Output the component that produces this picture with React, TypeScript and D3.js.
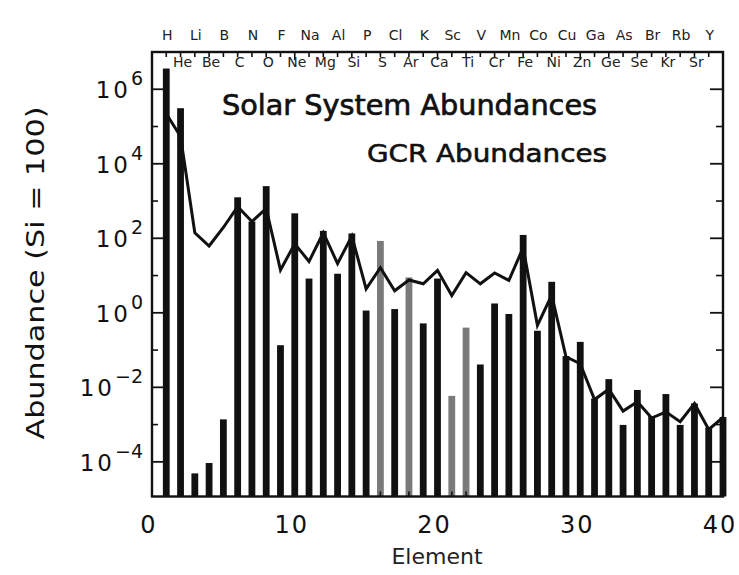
import React from 'react';
import * as d3 from 'd3';

const elements = ["H","He","Li","Be","B","C","N","O","F","Ne","Na","Mg","Al","Si","P","S","Cl","Ar","K","Ca","Sc","Ti","V","Cr","Mn","Fe","Co","Ni","Cu","Zn","Ga","Ge","As","Se","Br","Kr","Rb","Sr","Y","Zr"];

// Solar system abundances (Si = 100), bars
const solarAbund = [3.6e6, 3.1e5, 4.9e-5, 9.3e-5, 1.38e-3, 1260, 282, 2510, 0.135, 468,
  8.3, 158, 11.2, 135, 1.15, 85, 1.26, 8.9, 0.52, 8.3,
  5.9e-3, 0.40, 0.041, 1.78, 0.93, 123, 0.33, 6.8, 0.069, 0.166,
  5.0e-3, 0.0166, 9.8e-4, 8.5e-3, 1.7e-3, 6.6e-3, 9.8e-4, 3.7e-3, 8.3e-4, 1.6e-3];

// Galactic cosmic ray abundances (Si = 100), line
const gcrAbund = [2.2e5, 5.4e4, 141, 62, 195, 708, 282, 631, 14.1, 71,
  24, 141, 21, 115, 4.4, 16.2, 3.9, 7.6, 6.0, 13.8,
  2.9, 12.0, 6.0, 11.7, 7.4, 56, 0.46, 3.0, 0.066, 0.043,
  4.7e-3, 8.9e-3, 2.3e-3, 4.1e-3, 1.5e-3, 2.2e-3, 1.2e-3, 3.7e-3, 7.4e-4, 1.55e-3];

const grayElements = ["S", "Ar", "Sc", "Ti"];
const xTickLabels = [0, 10, 20, 30, 40];
const yMajorExp = [-4, -2, 0, 2, 4, 6];
const yMinorExp = [-3, -1, 1, 3, 5];

const W = 739, H = 575;
const L = 152, R = 723, T = 52, B = 496.5;
const FONT = "DejaVu Sans, sans-serif";

export default function App() {
  const x = d3.scaleLinear().domain([0, 40]).range([L, R]);
  const y = d3.scaleLog().domain([Math.pow(10, -4.93), 1e7]).range([B, T]);
  const bw = 6.8;
  const line = d3.line<number>().x((_, i) => x(i + 1)).y(d => y(d));
  const xMinor = d3.range(0, 41);

  return (
    <svg width={W} height={H} style={{ position: 'absolute', left: 0, top: 0, background: '#fff' }}
      fontFamily={FONT}>
      <rect x={0} y={0} width={W} height={H} fill="#fff" />
      {/* bars */}
      {solarAbund.map((v, i) => (
        <rect key={'b' + i} x={x(i + 1) - bw / 2} y={y(v)} width={bw} height={B - y(v)}
          fill={grayElements.includes(elements[i]) ? '#7a7a7a' : '#111'} />
      ))}
      {/* GCR line */}
      <path d={line(gcrAbund) || ''} fill="none" stroke="#111" strokeWidth={3} strokeLinejoin="miter" />
      {/* frame */}
      <rect x={L} y={T} width={R - L} height={B - T} fill="none" stroke="#111" strokeWidth={2.4} />
      {/* top & bottom ticks */}
      {xMinor.map(t => (
        <g key={'xt' + t}>
          <line x1={x(t)} x2={x(t)} y1={T} y2={T + (t % 10 === 0 ? 8 : 5)} stroke="#111" strokeWidth={1.6} />
          <line x1={x(t)} x2={x(t)} y1={B} y2={B - (t % 10 === 0 ? 8 : 5)} stroke="#111" strokeWidth={1.6} />
        </g>
      ))}
      {/* y ticks */}
      {yMajorExp.map(e => (
        <g key={'ym' + e}>
          <line x1={L} x2={L + 11} y1={y(Math.pow(10, e))} y2={y(Math.pow(10, e))} stroke="#111" strokeWidth={1.8} />
          <line x1={R} x2={R - 13} y1={y(Math.pow(10, e))} y2={y(Math.pow(10, e))} stroke="#111" strokeWidth={1.8} />
          <text x={143} y={y(Math.pow(10, e)) + 9} textAnchor="end" fill="#111">
            <tspan fontSize={23} letterSpacing={3}>10</tspan>
            <tspan fontSize={19} dy={-13}>{e < 0 ? '\u2212' + Math.abs(e) : String(e)}</tspan>
          </text>
        </g>
      ))}
      {yMinorExp.map(e => (
        <g key={'yn' + e}>
          <line x1={L} x2={L + 6} y1={y(Math.pow(10, e))} y2={y(Math.pow(10, e))} stroke="#111" strokeWidth={1.6} />
          <line x1={R} x2={R - 7} y1={y(Math.pow(10, e))} y2={y(Math.pow(10, e))} stroke="#111" strokeWidth={1.6} />
        </g>
      ))}
      {/* element labels */}
      {elements.map((el, i) => {
        const z = i + 1;
        if (z === 40) return null;
        const odd = z % 2 === 1;
        return (
          <text key={'el' + i} x={x(z) + (odd ? 1 : 2)} y={odd ? 40 : 67} textAnchor="middle"
            fontSize={14} fill="#222">{el}</text>
        );
      })}
      {/* x tick labels */}
      {xTickLabels.map(t => (
        <text key={'xl' + t} x={x(t) - 3} y={533} textAnchor="middle" fontSize={24} fill="#111"
          letterSpacing={2}>{t}</text>
      ))}
      <text x={437} y={564} textAnchor="middle" fontSize={22} fill="#222">Element</text>
      <text transform="translate(44,273) rotate(-90)" textAnchor="middle" fontSize={25} fill="#111"
        textLength={333} lengthAdjust="spacingAndGlyphs">Abundance (Si = 100)</text>
      <text x={222} y={115} fontSize={28} fill="#111" stroke="#111" strokeWidth={0.7}
        textLength={375} lengthAdjust="spacingAndGlyphs">Solar System Abundances</text>
      <text x={367} y={162} fontSize={25} fill="#111" stroke="#111" strokeWidth={0.6}
        textLength={240} lengthAdjust="spacingAndGlyphs">GCR Abundances</text>
    </svg>
  );
}
